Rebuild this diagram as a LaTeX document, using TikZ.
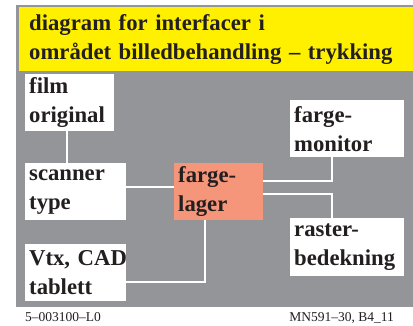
\documentclass[tikz,border=0pt]{standalone}
\usepackage{fontspec}
\setmainfont{Liberation Serif}
\usetikzlibrary{calc}
\definecolor{framegray}{RGB}{147,149,152}
\definecolor{titleyellow}{RGB}{255,240,0}
\definecolor{salmon}{RGB}{245,150,122}
\definecolor{ink}{RGB}{35,31,32}
\begin{document}
\begin{tikzpicture}[x=1pt,y=-1pt,
  bigfont/.style={font=\fontsize{22.7}{29}\selectfont\bfseries, text=ink},
  boxnode/.style={bigfont, fill=white, anchor=north west, inner xsep=4pt, inner ysep=0pt,
     align=left, minimum height=57pt},
  conn/.style={draw=white, line width=1.2pt},
  foot/.style={font=\fontsize{13.5}{16}\selectfont, text=ink, inner sep=0pt}]
\useasboundingbox (0,0) rectangle (413,325);
\fill[white] (0,0) rectangle (413,325);
\fill[framegray] (16,5) rectangle (413,307);
\node[bigfont, fill=titleyellow, anchor=north west, inner xsep=10pt, inner ysep=0pt,
  text width=374pt, align=left, minimum height=64pt] (title) at (19,7)
  {diagram for interfacer i\\området billedbehandling – trykking};
\node[boxnode, text width=81pt] (film) at (25,74) {film\\original};
\node[boxnode, text width=93pt] (scanner) at (25,163) {scanner\\type};
\node[boxnode, text width=81pt, fill=salmon] (lager) at (174,163) {farge-\\lager};
\node[boxnode, text width=106pt, minimum height=57pt] (monitor) at (290,100) {farge-\\monitor};
\node[boxnode, text width=106pt, minimum height=58pt] (raster) at (290,218) {raster-\\bedekning};
\node[boxnode, text width=93pt] (vtx) at (25,244) {\makebox[93pt][l]{Vtx, CAD}\\tablett};
\draw[conn] ([xshift=42pt]film.south west) -- ([xshift=42pt]scanner.north west);
\draw[conn] ([yshift=-24pt]scanner.north east) -- ([yshift=-24pt]lager.north west);
\draw[conn] ([yshift=-18pt]lager.north east) -| ([xshift=42pt]monitor.south west);
\draw[conn] ([yshift=-31pt]lager.north east) -| ([xshift=42pt]raster.north west);
\draw[conn] ([xshift=31pt]lager.south west) |- ([yshift=-38pt]vtx.north east);
\node[foot, anchor=base west] (code) at (25,321) {5–003100–L0};
\node[foot, anchor=base east] (ref) at (394,321) {MN591–30, B4\_11};
\end{tikzpicture}
\end{document}
